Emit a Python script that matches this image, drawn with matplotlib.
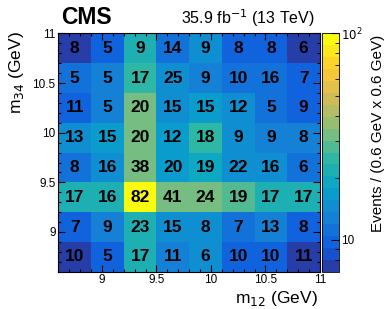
import numpy as np
import matplotlib
matplotlib.use('Agg')
import matplotlib.pyplot as plt
from matplotlib.colors import LinearSegmentedColormap, ListedColormap, LogNorm

plt.rcParams['font.family'] = ['Liberation Sans', 'DejaVu Sans']

# bin edges (GeV)
m12_edges = [8.6, 8.9, 9.2, 9.5, 9.8, 10.1, 10.4, 10.7, 11.0]
m34_edges = [8.6, 8.9, 9.2, 9.5, 9.8, 10.1, 10.4, 10.7, 11.0]

# event counts printed in the cells, top row first
counts = [
    [8, 5, 9, 14, 9, 8, 8, 6],
    [5, 5, 17, 25, 9, 10, 16, 7],
    [11, 5, 20, 15, 15, 12, 5, 9],
    [13, 15, 20, 12, 18, 9, 9, 8],
    [8, 16, 38, 20, 19, 22, 16, 6],
    [17, 16, 82, 41, 24, 19, 17, 17],
    [7, 9, 23, 15, 8, 7, 13, 8],
    [10, 5, 17, 11, 6, 10, 10, 11],
]

# colour scale value of each cell (read from the palette), top row first
shade = [
    [7.5, 9.8, 21.6, 11.1, 14.5, 9.8, 9.8, 7.5],
    [11.1, 12.7, 24.7, 14.5, 12.7, 11.1, 11.1, 9.8],
    [9.8, 12.7, 32.2, 14.5, 16.6, 14.5, 11.1, 9.8],
    [14.5, 16.6, 32.2, 16.6, 24.7, 14.5, 12.7, 12.7],
    [11.1, 14.5, 32.2, 16.6, 18.9, 14.5, 14.5, 11.1],
    [21.6, 21.6, 93.0, 32.2, 32.2, 28.2, 21.6, 21.6],
    [9.8, 12.7, 21.6, 14.5, 14.5, 11.1, 12.7, 9.8],
    [7.5, 9.8, 21.6, 12.7, 14.5, 9.8, 9.8, 7.5],
]

counts = np.array(counts)[::-1]
shade = np.array(shade)[::-1]

# ROOT kBird palette, 20 contour levels
bird = LinearSegmentedColormap.from_list('bird', [
    (0.2082, 0.1664, 0.5293), (0.0592, 0.3599, 0.8684), (0.0780, 0.5041, 0.8385),
    (0.0232, 0.6419, 0.7914), (0.1802, 0.7178, 0.6425), (0.5301, 0.7492, 0.4662),
    (0.8186, 0.7328, 0.3499), (0.9956, 0.7862, 0.1968), (0.9764, 0.9832, 0.0539)])
cmap = ListedColormap([bird((i + 0.99) / 20.0) for i in range(20)])
norm = LogNorm(vmin=7, vmax=100)

fig = plt.figure(figsize=(3.9, 3.09), dpi=100)
ax = fig.add_axes([0.1495, 0.1207, 0.671, 0.771])
ax.pcolormesh(m12_edges, m34_edges, shade, cmap=cmap, norm=norm, edgecolors='none')

xc = 0.5 * (np.array(m12_edges[:-1]) + np.array(m12_edges[1:]))
yc = 0.5 * (np.array(m34_edges[:-1]) + np.array(m34_edges[1:]))
for j in range(len(yc)):
    for i in range(len(xc)):
        ax.text(xc[i], yc[j], str(counts[j, i]), ha='center', va='center',
                fontsize=12.5, fontweight='bold', color='black')

ax.set_xlim(8.6, 11.0)
ax.set_ylim(8.6, 11.0)
ax.set_xticks([9, 9.5, 10, 10.5, 11])
ax.set_xticklabels(['9', '9.5', '10', '10.5', '11'])
ax.set_yticks([9, 9.5, 10, 10.5, 11])
ax.set_yticklabels(['9', '9.5', '10', '10.5', '11'])
ax.set_xticks(np.arange(8.6, 11.01, 0.1), minor=True)
ax.set_yticks(np.arange(8.6, 11.01, 0.1), minor=True)
ax.tick_params(which='both', direction='in', top=True, right=True, labelsize=8.5, pad=2)
ax.tick_params(axis='x', pad=1.5)
ax.tick_params(which='major', length=5, width=0.8)
ax.tick_params(which='minor', length=2.5, width=0.8)

fig.text(318 / 390, 1 - 298 / 309, r'm$_{12}$ (GeV)', ha='right', va='center', fontsize=12.5)
fig.text(17 / 390, 1 - 31 / 309, r'm$_{34}$ (GeV)', ha='center', va='top', rotation=90, fontsize=12.5)

fig.text(61 / 390, 1 - 18 / 309, 'CMS', ha='left', va='center', fontsize=16.5, fontweight='bold')
fig.text(315 / 390, 1 - 18 / 309, r'35.9 fb$^{-1}$ (13 TeV)', ha='right', va='center', fontsize=11.5)

cax = fig.add_axes([321.7 / 390, 0.1207, 17.6 / 390, 0.771])
cb = fig.colorbar(plt.cm.ScalarMappable(norm=norm, cmap=cmap), cax=cax)
cb.outline.set_linewidth(0.6)
cb.set_ticks([10, 100])
cb.set_ticklabels(['10', r'$10^2$'])
cb.ax.set_yticks([8, 9, 20, 30, 40, 50, 60, 70, 80, 90], minor=True)
cb.ax.tick_params(which='both', direction='in', labelsize=8.5, pad=1)
cb.ax.tick_params(which='major', length=6)
cb.ax.tick_params(which='minor', length=3)

fig.text(378 / 390, 1 - 35 / 309, 'Events / (0.6 GeV x 0.6 GeV)', ha='center', va='top',
         rotation=90, fontsize=11)

fig.savefig('out.png', dpi=100)
